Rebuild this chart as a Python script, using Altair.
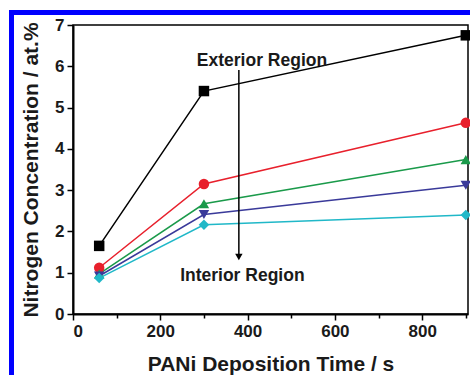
import altair as alt
import pandas as pd

times = [60, 300, 900]
series_names = ["S1", "S2", "S3", "S4", "S5"]
s1 = [1.65, 5.40, 6.75]
s2 = [1.12, 3.15, 4.63]
s3 = [0.97, 2.67, 3.74]
s4 = [0.92, 2.41, 3.12]
s5 = [0.87, 2.16, 2.40]
colors = ["#000000", "#e8202c", "#1a9a4a", "#3a3a9a", "#20b8c8"]
shapes = ["square", "circle", "triangle-up", "triangle-down", "diamond"]

rows = []
for name, vals in zip(series_names, [s1, s2, s3, s4, s5]):
    for t, v in zip(times, vals):
        rows.append({"t": t, "n": v, "s": name})
df = pd.DataFrame(rows)

arrow_x = [380]
arrow_top = [5.91]
arrow_bottom = [1.40]
arrow_head = [1.38]
labels = ["Exterior Region", "Interior Region"]
label_x = [433, 388]
label_y = [6.13, 0.92]

FONT = "Liberation Sans"

xs = alt.Scale(domain=[0, 905], nice=False, zero=False)
ys = alt.Scale(domain=[0, 7], nice=False)
col = alt.Scale(domain=series_names, range=colors)
shp = alt.Scale(domain=series_names, range=shapes)

x_axis = alt.Axis(
    values=[0, 100, 200, 300, 400, 500, 600, 700, 800, 900],
    labelExpr="datum.value % 200 === 0 ? datum.label : ''",
    tickSize={"condition": {"test": "datum.value % 200 === 0", "value": 6}, "value": 4},
    title="PANi Deposition Time / s", grid=False, titlePadding=14,
)
y_axis = alt.Axis(
    values=[i * 0.5 for i in range(15)],
    labelExpr="datum.value % 1 === 0 ? datum.label : ''",
    tickSize={"condition": {"test": "datum.value % 1 === 0", "value": 6}, "value": 4},
    title="Nitrogen Concentration / at.%", grid=False, titlePadding=13,
)

base = alt.Chart(df)
lines = base.mark_line(strokeWidth=1.5).encode(
    x=alt.X("t:Q", scale=xs, axis=x_axis),
    y=alt.Y("n:Q", scale=ys, axis=y_axis),
    color=alt.Color("s:N", scale=col, legend=None),
    detail="s:N",
)
points = base.mark_point(filled=True, opacity=1, size=110).encode(
    x=alt.X("t:Q", scale=xs),
    y=alt.Y("n:Q", scale=ys),
    color=alt.Color("s:N", scale=col, legend=None),
    shape=alt.Shape("s:N", scale=shp, legend=None),
)

adf = pd.DataFrame({"x": arrow_x, "y1": arrow_top, "y2": arrow_bottom, "yh": arrow_head})
arrow = alt.Chart(adf).mark_rule(color="black", strokeWidth=1.5).encode(
    x=alt.X("x:Q", scale=xs), y=alt.Y("y1:Q", scale=ys), y2="y2:Q"
)
head = alt.Chart(adf).mark_point(shape="triangle-down", filled=True, color="black", opacity=1, size=55).encode(
    x=alt.X("x:Q", scale=xs), y=alt.Y("yh:Q", scale=ys)
)

ldf = pd.DataFrame({"label": labels, "x": label_x, "y": label_y})
texts = alt.Chart(ldf).mark_text(font=FONT, fontSize=17.5, fontWeight="bold", color="#1a1a1a").encode(
    x=alt.X("x:Q", scale=xs), y=alt.Y("y:Q", scale=ys), text="label:N"
)

one = alt.Data(values=[{}])
border_left = alt.Chart(one).mark_rule(color="#0000ff", strokeWidth=5, clip=False).encode(
    x=alt.value(-61.5), y=alt.value(-15), y2=alt.value(360)
)
border_top = alt.Chart(one).mark_rule(color="#0000ff", strokeWidth=5, clip=False).encode(
    x=alt.value(-64), x2=alt.value(400), y=alt.value(-12.5)
)

chart = alt.layer(lines, points, arrow, head, texts, border_left, border_top).properties(
    width=395, height=289,
    autosize=alt.AutoSizeParams(type="none"),
    padding={"left": 73, "top": 25, "right": 2, "bottom": 61},
    background="white",
).configure_view(
    stroke="black", strokeWidth=1.5
).configure_axis(
    domainColor="black", domainWidth=2, tickColor="black", tickWidth=1.5,
    labelFont=FONT, labelFontSize=17, labelFontWeight="bold", labelColor="#1a1a1a",
    labelPadding=3,
    titleFont=FONT, titleFontSize=21, titleFontWeight="bold", titleColor="#1a1a1a",
)

chart.save("out.html", embed_options={"renderer": "svg", "actions": False})
